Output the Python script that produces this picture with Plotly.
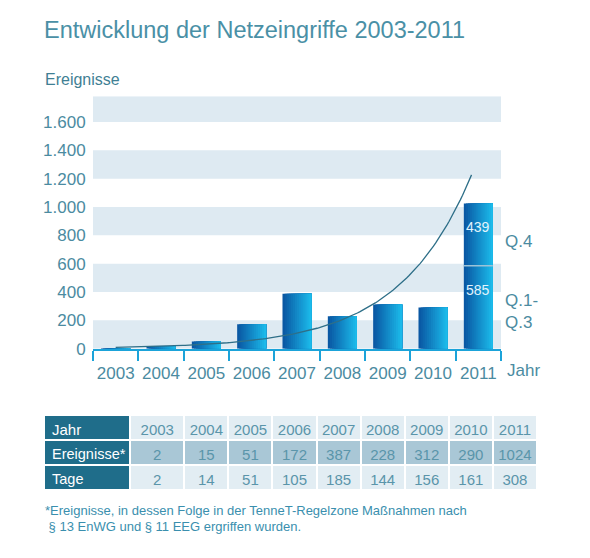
import numpy as np
import plotly.graph_objects as go

# ---------------- data ----------------
years = ["2003", "2004", "2005", "2006", "2007", "2008", "2009", "2010", "2011"]
ereignisse = [2, 15, 51, 172, 387, 228, 312, 290, 1024]
tage = [2, 14, 51, 105, 185, 144, 156, 161, 308]
q13_2011 = 585   # Q.1-Q.3 2011
q4_2011 = 439    # Q.4 2011
y_ticks = [0, 200, 400, 600, 800, 1000, 1200, 1400, 1600]
title_text = "Entwicklung der Netzeingriffe 2003-2011"
footnote_lines = ["*Ereignisse, in dessen Folge in der TenneT-Regelzone Maßnahmen nach",
                  "\u00a0§ 13 EnWG und § 11 EEG ergriffen wurden."]

# ---------------- layout constants ----------------
W, H = 590, 558
FONT = "Liberation Sans"
TEAL = "#4b8ba1"
AXIS_BLUE = "#1ba3d9"
BAND = "#deeaf2"
px = lambda v: v / W
py = lambda v: 1 - v / H

x_dom = [px(93), px(501)]
y_dom = [py(355), py(98)]
y_max = 1782

fig = go.Figure()

main_vals = ereignisse[:-1] + [q13_2011]
i2011 = years.index("2011")

# gradient bars built from overlapping slices
bar_w = 0.64
n_sl = 14
c0 = np.array([10, 88, 164])
c1 = np.array([28, 186, 234])
for k in range(n_sl):
    t = k / (n_sl - 1)
    c = (c0 * (1 - t) + c1 * t).astype(int)
    col = f"rgb({c[0]},{c[1]},{c[2]})"
    off = -bar_w / 2 + k * bar_w / n_sl
    wid = bar_w - k * bar_w / n_sl
    fig.add_trace(go.Bar(x=years, y=main_vals, base=0, offset=off, width=wid,
                         marker=dict(color=col, line=dict(width=0)),
                         showlegend=False, hoverinfo="skip"))
    fig.add_trace(go.Bar(x=[years[i2011]], y=[q4_2011], base=[q13_2011], offset=off, width=wid,
                         marker=dict(color=col, line=dict(width=0)),
                         showlegend=False, hoverinfo="skip"))

# exponential trend fitted to the yearly totals
idx = np.arange(len(years))
b, a = np.polyfit(idx, np.log(ereignisse), 1)
xs = np.linspace(0, 7.85, 160)
fig.add_trace(go.Scatter(x=xs, y=np.exp(a + b * xs), xaxis="x2", mode="lines",
                         line=dict(color="#2e6f88", width=1.3),
                         showlegend=False, hoverinfo="skip"))

# background bands
shapes = []
for j in range(0, len(y_ticks), 2):
    lo = y_ticks[j]
    hi = y_ticks[j + 1] if j + 1 < len(y_ticks) else y_max
    shapes.append(dict(type="rect", xref="x domain", yref="y", x0=0, x1=1, y0=lo, y1=hi,
                       fillcolor=BAND, line=dict(width=0), layer="below"))
shapes.append(dict(type="line", xref="x", yref="y", x0=i2011 - bar_w / 2, x1=i2011 + bar_w / 2,
                   y0=q13_2011, y1=q13_2011, line=dict(color="#9cc3d8", width=1.5)))

annotations = [
    dict(text="Ereignisse", xref="paper", yref="paper", x=px(43), y=py(81),
         xanchor="left", yanchor="middle", showarrow=False,
         font=dict(family=FONT, size=16, color="#3f7f94")),
    dict(text="Jahr", xref="paper", yref="paper", x=px(505), y=py(377),
         xanchor="left", yanchor="middle", showarrow=False,
         font=dict(family=FONT, size=17, color=TEAL)),
    dict(text=str(q4_2011), xref="x", yref="y", x=i2011, y=q13_2011 + q4_2011,
         yanchor="top", yshift=-13, showarrow=False,
         font=dict(family=FONT, size=14, color="#e2f4fd")),
    dict(text=str(q13_2011), xref="x", yref="y", x=i2011, y=q13_2011,
         yanchor="top", yshift=-14, showarrow=False,
         font=dict(family=FONT, size=14, color="#e2f4fd")),
    dict(text="Q.4", xref="paper", yref="y", x=px(503), y=q13_2011 + q4_2011 / 2,
         xanchor="left", yanchor="middle", yshift=-7, showarrow=False,
         font=dict(family=FONT, size=17, color=TEAL)),
    dict(text="Q.1-<br>Q.3", xref="paper", yref="y", x=px(503), y=q13_2011 / 2,
         xanchor="left", yanchor="middle", yshift=-4, showarrow=False, align="left",
         font=dict(family=FONT, size=17, color=TEAL)),
]
for li, line in enumerate(footnote_lines):
    annotations.append(dict(text=line, xref="paper", yref="paper", x=px(43), y=py(520 + 16 * li),
                            xanchor="left", yanchor="middle", showarrow=False,
                            font=dict(family=FONT, size=13, color="#3a8fae")))

# table
DARK = "#1f6d8a"
LIGHT = "#e2edf3"
MID = "#a9c7d6"
TXT = "#5a95aa"
fig.add_trace(go.Table(
    domain=dict(x=[px(44), px(538)], y=[py(500), py(423)]),
    columnwidth=[86, 54] + [44] * (len(years) - 1),
    header=dict(values=["Jahr"] + years,
                fill=dict(color=[DARK] + [LIGHT] * len(years)),
                line=dict(color="white", width=2),
                font=dict(family=FONT, size=15, color=["white"] + [TXT] * len(years)),
                align=["left"] + ["center"] * len(years), height=25),
    cells=dict(values=[["Ereignisse*", "Tage"]] + [[e, t] for e, t in zip(ereignisse, tage)],
               fill=dict(color=[[DARK, DARK]] + [[MID, LIGHT]] * len(years)),
               line=dict(color="white", width=2),
               font=dict(family=FONT, size=[14.5] + [15] * len(years),
                         color=[["white", "white"]] + [[TXT, TXT]] * len(years)),
               align=["left"] + ["center"] * len(years), height=25),
))

fig.update_layout(
    width=W, height=H, margin=dict(l=0, r=0, t=0, b=0), autosize=False,
    paper_bgcolor="white", plot_bgcolor="white",
    barmode="overlay", separators=",.", showlegend=False,
    title=dict(text=title_text, x=px(44), xanchor="left", y=py(30), yanchor="middle",
               font=dict(family=FONT, size=23.5, color="#4a90a6")),
    xaxis=dict(domain=x_dom, type="category", categoryorder="array", categoryarray=years,
               range=[-0.5, len(years) - 0.5], tickson="boundaries", ticks="outside",
               ticklen=10, tickwidth=2, tickcolor=AXIS_BLUE, showline=True, linecolor=AXIS_BLUE,
               linewidth=2, showgrid=False, zeroline=False, tickangle=0, ticklabelstandoff=8,
               tickfont=dict(family=FONT, size=17, color=TEAL)),
    xaxis2=dict(overlaying="x", range=[-0.5, len(years) - 0.5], visible=False),
    yaxis=dict(domain=y_dom, range=[0, y_max], tickvals=y_ticks, tickformat=",d",
               showgrid=False, zeroline=False, showline=False, ticks="outside", ticklen=3,
               tickcolor="rgba(0,0,0,0)", tickfont=dict(family=FONT, size=17, color=TEAL)),
    shapes=shapes, annotations=annotations,
)

page_css = (
    "var de=document.documentElement, bd=document.body;"
    "[de, bd].forEach(function(e){e.style.margin='0';e.style.padding='0';"
    "e.style.overflow='hidden';e.style.width='590px';e.style.height='558px';});"
    "var gd=document.getElementById('{plot_id}');"
    "if(gd && gd.parentElement){gd.parentElement.style.height='558px';"
    "gd.parentElement.style.overflow='hidden';}"
)
fig.write_html("out.html", config={"responsive": False, "displayModeBar": False},
               post_script=page_css)
